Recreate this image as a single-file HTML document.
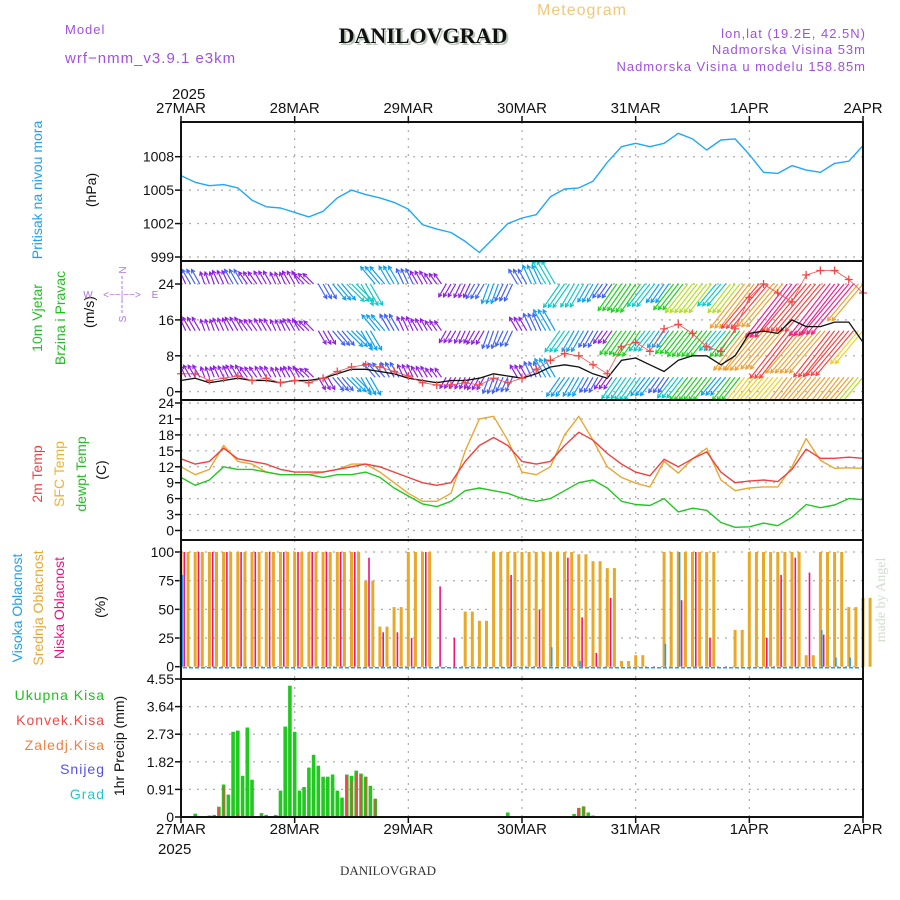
<!DOCTYPE html>
<html><head><meta charset="utf-8"><style>
html,body{margin:0;padding:0;background:#fff;}
svg{display:block;font-family:"Liberation Sans",sans-serif;}
</style></head><body>
<svg id="chart" width="900" height="900" viewBox="0 0 900 900" xmlns="http://www.w3.org/2000/svg">
<rect width="900" height="900" fill="#fff"/>
<text x="582" y="15" font-size="16" fill="#f0c878" text-anchor="middle" letter-spacing="1">Meteogram</text>
<text x="65" y="34" font-size="13" fill="#a050e0" letter-spacing="1">Model</text>
<text x="65" y="63" font-size="15" fill="#a050e0" letter-spacing="1">wrf−nmm_v3.9.1 e3km</text>
<text x="425" y="45" font-size="22" font-weight="bold" fill="#b8c8b8" text-anchor="middle" font-family="Liberation Serif,serif">DANILOVGRAD</text>
<text x="423" y="43" font-size="22" font-weight="bold" fill="#111" text-anchor="middle" font-family="Liberation Serif,serif">DANILOVGRAD</text>
<text x="866" y="38" font-size="13" fill="#a050e0" text-anchor="end" letter-spacing="1">lon,lat (19.2E, 42.5N)</text>
<text x="866" y="54" font-size="13" fill="#a050e0" text-anchor="end" letter-spacing="1">Nadmorska Visina 53m</text>
<text x="866" y="71" font-size="13" fill="#a050e0" text-anchor="end" letter-spacing="1">Nadmorska Visina u modelu 158.85m</text>
<text x="172" y="99" font-size="15" fill="#111">2025</text>
<text x="158" y="854" font-size="15" fill="#111">2025</text>
<text x="388" y="875" font-size="13" fill="#333" text-anchor="middle" font-family="Liberation Serif,serif">DANILOVGRAD</text>
<text transform="translate(885,600) rotate(-90)" font-size="14" fill="#d0dcd0" text-anchor="middle" font-family="Liberation Serif,serif">made by Angel</text>
<g id="labels" font-size="14">
<text transform="translate(42,190) rotate(-90)" fill="#20a0f0" text-anchor="middle">Pritisak na nivou mora</text>
<text transform="translate(96,190) rotate(-90)" fill="#111" text-anchor="middle">(hPa)</text>
<text transform="translate(42,318) rotate(-90)" fill="#20c020" text-anchor="middle">10m Vjetar</text>
<text transform="translate(65,318) rotate(-90)" fill="#20c020" text-anchor="middle">Brzina i Pravac</text>
<text transform="translate(94,312) rotate(-90)" fill="#111" text-anchor="middle">(m/s)</text>
<text transform="translate(42,474) rotate(-90)" fill="#f04040" text-anchor="middle">2m Temp</text>
<text transform="translate(64,474) rotate(-90)" fill="#f0b030" text-anchor="middle">SFC Temp</text>
<text transform="translate(86,474) rotate(-90)" fill="#20c020" text-anchor="middle">dewpt Temp</text>
<text transform="translate(106,470) rotate(-90)" fill="#111" text-anchor="middle">(C)</text>
<text transform="translate(22,608) rotate(-90)" fill="#20a0f0" text-anchor="middle">Visoka Oblacnost</text>
<text transform="translate(43,608) rotate(-90)" fill="#e8a830" text-anchor="middle">Srednja Oblacnost</text>
<text transform="translate(64,608) rotate(-90)" fill="#f01080" text-anchor="middle">Niska Oblacnost</text>
<text transform="translate(105,607) rotate(-90)" fill="#111" text-anchor="middle">(%)</text>
<text transform="translate(124,746) rotate(-90)" fill="#111" text-anchor="middle">1hr Precip (mm)</text>
<text x="105" y="700" fill="#20c020" text-anchor="end" letter-spacing="1">Ukupna Kisa</text>
<text x="105" y="725" fill="#f04848" text-anchor="end" letter-spacing="1">Konvek.Kisa</text>
<text x="105" y="750" fill="#f08040" text-anchor="end" letter-spacing="1">Zaledj.Kisa</text>
<text x="105" y="774" fill="#5050f0" text-anchor="end" letter-spacing="1">Snijeg</text>
<text x="105" y="799" fill="#20c8c8" text-anchor="end" letter-spacing="1">Grad</text>
</g>
<g font-size="10" fill="#b070e0" stroke="none">
<text transform="translate(126,270) rotate(-90)" text-anchor="middle">N</text>
<text transform="translate(126,319) rotate(-90)" text-anchor="middle">S</text>
<text x="88" y="298" text-anchor="middle">W</text>
<text x="155" y="298" text-anchor="middle">E</text>
<text x="122" y="298" text-anchor="middle">&lt;−−|−−&gt;</text>
<line x1="122" y1="276" x2="122" y2="290" stroke="#b070e0" stroke-dasharray="3,2"/>
<line x1="122" y1="300" x2="122" y2="313" stroke="#b070e0" stroke-dasharray="3,2"/>
</g>
<g id="plot"></g>
</svg>
<script>
const days=['27MAR','28MAR','29MAR','30MAR','31MAR','1APR','2APR'];
const pressure=[1006.3,1005.7,1005.4,1005.5,1005.2,1004.1,1003.5,1003.4,1003.0,1002.6,1003.1,1004.3,1005.0,1004.6,1004.3,1003.9,1003.3,1001.9,1001.5,1001.2,1000.4,999.4,1000.7,1002.0,1002.5,1002.8,1004.4,1005.1,1005.2,1005.8,1007.5,1008.9,1009.2,1008.9,1009.2,1010.1,1009.6,1008.6,1009.5,1009.6,1008.2,1006.6,1006.5,1007.2,1006.8,1006.6,1007.4,1007.6,1009.0];
const pressureTicks=[999,1002,1005,1008];
const windSpeed=[2.5,3,2,2.5,3,2.5,2.5,2,2.5,2.5,3,4,5,5,4.5,4,3,2.5,2,2.5,2.5,3,4,3.5,3,4,5.5,6,5.5,4,3,7,7.5,6,4.5,7,8,8,6,8,13,13.5,13,16,14.5,14.5,15.5,15.5,11];
const windGust=[4,4,2.5,3,3.5,2.5,3,2,2.5,2,3,4.5,5.5,6,5.5,4.5,3.5,2,1.5,1.5,2,1.5,3,2,3,5,7,8.5,8,6,4,10,11,9,14,15,13,10,9,14,21,24,22,20,26,27,27,25,22];
const windDir=[115,120,110,115,120,125,120,115,120,135,300,310,315,300,130,120,115,120,125,240,245,240,250,245,120,115,120,235,240,240,235,235,235,232,235,232,232,232,230,232,232,230,230,232,230,230,232,230,230];
const windTicks=[0,8,16,24];
const temp2m=[13.5,12.5,13,15.5,13.5,13,12.5,11.5,11,11,11,11.5,12,12.5,12,11,10,9,8.5,9,13,16,17.5,16,13,12.5,13,16,18.5,17,14.5,12.5,11,10.3,13.4,12,13.5,14.8,11,9,9.3,9.5,9.2,11.5,15.3,13.6,13.6,13.8,13.6];
const tempSfc=[12,10.5,11.5,16,13,12.5,11,10.5,10.5,10.5,11,11.5,12.5,12.5,11,9,7,5.5,5.5,7,15,21,21.5,17,11,10.5,12,18,21.5,17,12,10,8.9,8.2,13,10.8,13.5,15.5,9.5,7.5,8,8.2,8.2,12,17.3,13.2,11.7,11.8,11.7];
const tempDew=[10,8.5,9.5,12,11.5,11.5,11,10.5,10.5,10.5,10,10.5,10.5,11,10,8,6.5,5,4.5,5.5,7.5,8,7.5,7,6,5.5,6,7.5,9,9.5,8,5.5,4.9,4.7,6,3.5,4.2,3.8,1.5,0.6,0.7,1.4,0.9,2.5,4.9,4.3,4.8,6,5.8];
const tempTicks=[0,3,6,9,12,15,18,21,24];
const cloudHigh=[80,0,0,0,0,0,0,0,0,0,0,0,0,0,0,0,0,0,0,0,0,0,0,0,0,0,17,0,5,0,0,0,0,0,20,100,0,0,0,0,0,0,0,0,0,32,8,8,0];
const cloudMid=[100,100,100,100,100,100,100,100,100,100,100,100,100,75,35,52,100,100,0,0,48,40,100,100,100,100,100,100,98,92,86,5,10,0,100,100,100,100,0,32,100,100,100,100,10,100,100,52,60];
const cloudLow=[100,100,100,100,100,100,100,100,100,100,100,100,100,95,30,30,25,100,70,25,0,0,0,80,0,50,0,95,43,12,60,0,0,0,0,58,100,25,0,0,0,25,80,95,82,28,0,0,0];
const cloudTicks=[0,25,50,75,100];
const precipTotal=[0,0,0,0.11,0,0,0.05,0.07,0.34,1.07,0.74,2.81,2.85,1.36,2.95,1.23,0,0.13,0.07,0,0.07,0.87,2.98,4.33,2.81,0.87,0.99,1.63,2.05,1.69,1.33,1.33,1.40,0.87,0.64,1.40,1.36,1.53,1.43,1.33,1.03,0.60,0,0,0,0,0,0,0,0,0,0,0,0,0,0,0,0,0,0,0,0,0,0,0,0,0,0,0,0.15,0,0,0,0,0,0,0,0,0,0,0,0,0,0.1,0.3,0.35,0.15,0.05];
const precipConv=[0,0,0,0,0,0,0.05,0,0.3,1.0,0,0,0.1,0,0,0,0,0,0,0,0,0,0,0,0,0,0,0,0,0,0,0,0,0,0,1.35,1.2,1.45,1.4,1.33,0,0.6,0,0,0,0,0,0,0,0,0,0,0,0,0,0,0,0,0,0,0,0,0,0,0,0,0,0,0,0,0,0,0,0,0,0,0,0,0,0,0,0,0,0,0.3,0.35,0,0];
const precipTicks=['0','0.91','1.82','2.73','3.64','4.55'];

const NS='http://www.w3.org/2000/svg';
const plot=document.getElementById('plot');
const X0=181,X1=863,HOURS=144;
const xh=h=>X0+(X1-X0)*h/HOURS;
const x3=i=>xh(i*3);
function el(tag,attrs,parent){const e=document.createElementNS(NS,tag);for(const k in attrs)e.setAttribute(k,attrs[k]);(parent||plot).appendChild(e);return e;}
function lin(v0,v1,p0,p1){return v=>p0+(v-v0)*(p1-p0)/(v1-v0);}
const panels=[
 {name:'pressure',top:122,bot:261,y:lin(999,1008,257,156.7)},
 {name:'wind',top:261,bot:400,y:lin(0,24,391.7,284)},
 {name:'temp',top:400,bot:540,y:lin(0,24,530.5,403)},
 {name:'cloud',top:540,bot:679,y:lin(0,100,666.7,552)},
 {name:'precip',top:679,bot:817,y:lin(0,4.55,817,679)}
];
const P={};panels.forEach(p=>P[p.name]=p);
function hgrid(p,vals,labels){
 vals.forEach((v,k)=>{const yy=p.y(v);
  const g=el('line',{x1:X0,x2:X1,y1:yy,y2:yy,stroke:'#aaa','stroke-width':1.2,'stroke-dasharray':'2,6'});
  
  
  const tk=el('line',{x1:X0-6,x2:X0,y1:yy,y2:yy,stroke:'#111','stroke-width':1.5});
  
  
  const t=el('text',{x:X0-7,y:yy+5,'font-size':14,'text-anchor':'end',fill:'#111'});
  
  
  t.textContent=labels?labels[k]:v;});
}
panels.forEach(p=>{
 for(let d=1;d<days.length-1;d++){const xx=x3(d*8);
  const g=el('line',{x1:xx,x2:xx,y1:p.top,y2:p.bot,stroke:'#aaa','stroke-width':1.2,'stroke-dasharray':'2,6'});
  
  }
});
hgrid(P.pressure,pressureTicks);
hgrid(P.wind,windTicks);
hgrid(P.temp,tempTicks);
hgrid(P.cloud,cloudTicks);
hgrid(P.precip,precipTicks.map(Number),precipTicks);
function line(arr,p,color,name,w){
 const d=arr.map((v,i)=>(i?'L':'M')+x3(i).toFixed(1)+','+p.y(v).toFixed(1)).join('');
 const e=el('path',{d:d,fill:'none',stroke:color,'stroke-width':w||1.4,'stroke-linejoin':'round'});
 
 
}
line(pressure,P.pressure,'#20a8f8','pressure-line');
// wind
const clipW=el('clipPath',{id:'cw'});el('rect',{x:X0,y:P.wind.top,width:X1-X0,height:P.wind.bot-P.wind.top},clipW);
const wg=el('g',{'clip-path':'url(#cw)'});


function spdColor(s){if(s<3.5)return'#9020e0';if(s<5)return'#4060f8';if(s<6.5)return'#10a0f0';if(s<8)return'#10c8c8';if(s<10)return'#20d020';if(s<12)return'#b0e020';if(s<14)return'#f0d020';if(s<17)return'#f0a030';if(s<20)return'#ff4040';return'#f02090';}
const rows=[{lvl:3.2,m:1},{lvl:13.6,m:1.15},{lvl:24,m:1.3}];
rows.forEach(r=>{
 for(let h=0;h<=HOURS;h++){const i=Math.round(h/3);const s=windSpeed[i]*r.m;const a=windDir[i]*Math.PI/180;
  const L=3*s+5;const xa=xh(h),ya=P.wind.y(r.lvl);const xb=xa+L*Math.cos(a),yb=ya-L*Math.sin(a);
  const c=spdColor(s);
  const ar=el('path',{d:`M${xa.toFixed(1)},${ya.toFixed(1)}L${xb.toFixed(1)},${yb.toFixed(1)}M${(xb-4*Math.cos(a-0.5)).toFixed(1)},${(yb+4*Math.sin(a-0.5)).toFixed(1)}L${xb.toFixed(1)},${yb.toFixed(1)}L${(xb-4*Math.cos(a+0.5)).toFixed(1)},${(yb+4*Math.sin(a+0.5)).toFixed(1)}`,stroke:c,'stroke-width':1.2,fill:'none'},wg);
  
  
 }
});
line(windSpeed,P.wind,'#111','wind-speed-line',1.3);
line(windGust,P.wind,'#f05050','wind-gust-line',0.8);
windGust.forEach((v,i)=>{const xx=x3(i),yy=P.wind.y(v);
 const m=el('path',{d:`M${xx-4},${yy}h8M${xx},${yy-4}v8`,stroke:'#f04848','stroke-width':1.3});
 
 });
line(tempSfc,P.temp,'#e8a830','sfc-temp-line');
line(temp2m,P.temp,'#f04040','temp-2m-line');
line(tempDew,P.temp,'#20c820','dewpoint-line');
const cb=P.cloud;
function bar(x,w,v,p,color,name){const y0=p.y(0),yy=p.y(v);
 const b=el('rect',{x:x.toFixed(1),y:yy.toFixed(1),width:w,height:Math.max(0,y0-yy).toFixed(1),fill:color});
 
 }
cloudMid.forEach((v,i)=>{if(v>0){bar(x3(i)-1.5,3,v,cb,'#e8a828','mid-cloud-bar');bar(x3(i)+5.6,3,v,cb,'#e8a828','mid-cloud-bar');}});
cloudLow.forEach((v,i)=>{if(v>0)bar(x3(i)+2.5,1.6,v,cb,'#f01080','low-cloud-bar');});
cloudHigh.forEach((v,i)=>{if(v>0)bar(x3(i)+0.5,1.6,v,cb,'#20a0f0','high-cloud-bar');});
const cl=el('line',{x1:X0+2,x2:X1-2,y1:cb.y(0)+1,y2:cb.y(0)+1,stroke:'#20a0f0','stroke-width':1.5,'stroke-dasharray':'4,2'});


precipTotal.forEach((v,h)=>{if(v>0)bar(xh(h)-1.8,3.6,v,P.precip,'#20c820','total-precip-bar');});
precipConv.forEach((v,h)=>{if(v>0)bar(xh(h)-0.8,1.8,v,P.precip,'#f04848','convective-precip-bar');});
panels.forEach(p=>{const f=el('rect',{x:X0,y:p.top,width:X1-X0,height:p.bot-p.top,fill:'none',stroke:'#111','stroke-width':2});
 
 });
days.forEach((d,k)=>{const xx=x3(k*8);
 [[113,P.pressure.top,-6],[834,P.precip.bot,6]].forEach(([ty,ay,dir])=>{
  const tk=el('line',{x1:xx,x2:xx,y1:ay,y2:ay+dir,stroke:'#111','stroke-width':1.5});
  
  
  const t=el('text',{x:xx,y:ty,'font-size':15,'text-anchor':'middle',fill:'#111'});
  
  
  t.textContent=d;});
});
</script>
</body></html>
